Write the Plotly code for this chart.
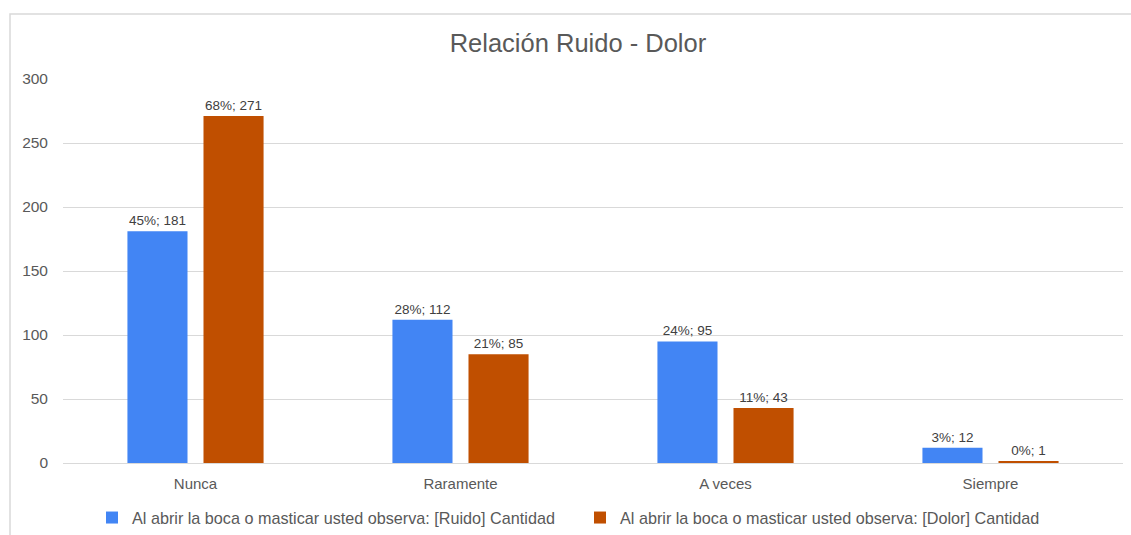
import plotly.graph_objects as go

categories = ["Nunca", "Raramente", "A veces", "Siempre"]
ruido = [181, 112, 95, 12]
dolor = [271, 85, 43, 1]
ruido_pct = ["45%", "28%", "24%", "3%"]
dolor_pct = ["68%", "21%", "11%", "0%"]
y_ticks = [0, 50, 100, 150, 200, 250, 300]

name_ruido = "Al abrir la boca o masticar usted observa: [Ruido] Cantidad"
name_dolor = "Al abrir la boca o masticar usted observa: [Dolor] Cantidad"

FONT = "Arial, Liberation Sans, sans-serif"

fig = go.Figure()
fig.add_trace(go.Bar(
    x=categories, y=ruido, name=name_ruido,
    marker=dict(color="#4285F4", line=dict(width=0)),
    text=[f"{p}; {v}" for p, v in zip(ruido_pct, ruido)],
    textposition="outside", cliponaxis=False,
    textfont=dict(size=13.5, color="#404040", family=FONT),
))
fig.add_trace(go.Bar(
    x=categories, y=dolor, name=name_dolor,
    marker=dict(color="#C04F00", line=dict(width=0)),
    text=[f"{p}; {v}" for p, v in zip(dolor_pct, dolor)],
    textposition="outside", cliponaxis=False,
    textfont=dict(size=13.5, color="#404040", family=FONT),
))

W, H = 1131, 535
L, R, T, B = 63, 8, 79, 72
pw, ph = W - L - R, H - T - B

def px_x(p):
    return (p - L) / pw

def px_y(p):
    return (H - B - p) / ph

fig.update_layout(
    template="none",
    width=W, height=H,
    margin=dict(l=L, r=R, t=T, b=B, pad=0, autoexpand=False),
    paper_bgcolor="white", plot_bgcolor="white",
    font=dict(family=FONT, color="#595959", size=15),
    title=dict(text="Relación Ruido - Dolor", x=0.511, xanchor="center",
               y=1 - 43 / H, yanchor="middle",
               font=dict(size=25.5, color="#595959", family=FONT)),
    barmode="group", bargap=0.426, bargroupgap=0.21,
    showlegend=True,
    legend=dict(orientation="h", x=px_x(92), xanchor="left",
                y=px_y(518), yanchor="middle",
                entrywidth=443, entrywidthmode="pixels",
                font=dict(size=16.2, color="#595959", family=FONT),
                itemwidth=30, traceorder="normal"),
    xaxis=dict(showgrid=False, showline=False, ticks="", automargin=False,
               ticklabelstandoff=10,
               tickfont=dict(size=15, color="#595959")),
    yaxis=dict(range=[0, 300], tickvals=y_ticks, showgrid=True,
               gridcolor="#d9d9d9", gridwidth=1, zeroline=True,
               zerolinecolor="#d9d9d9", zerolinewidth=1, showline=False,
               ticks="", ticklabelstandoff=14, automargin=False,
               tickfont=dict(size=15.5, color="#595959")),
    shapes=[dict(type="rect", xref="paper", yref="paper",
                 x0=px_x(10), x1=px_x(1140), y0=px_y(545), y1=px_y(14),
                 line=dict(color="#d9d9d9", width=1.5), layer="below")],
)

fig.write_html("out.html", config={"displayModeBar": False},
               post_script="document.body.style.margin='0';document.body.style.overflow='hidden';")
